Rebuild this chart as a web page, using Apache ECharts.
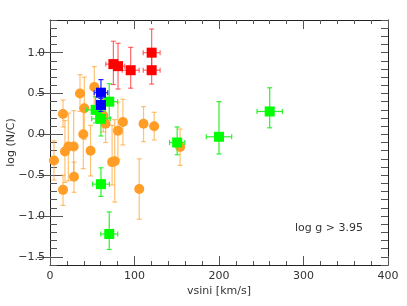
<!DOCTYPE html>
<html><head><meta charset="utf-8">
<script src="https://cdn.jsdelivr.net/npm/echarts@6/dist/echarts.min.js"></script>
<style>html,body{margin:0;padding:0;background:#fff}#c{width:407px;height:306px}</style>
</head><body><div id="c"></div>
<script>
// ---- data ----
const xTicks = [0, 100, 200, 300, 400];
const yTicks = [-1.5, -1.0, -0.5, 0.0, 0.5, 1.0];

const orangeX  = [4.7, 15.4, 15.4, 17.7, 21.7, 28.0, 28.4, 35.5, 39.4, 40.6, 48.0, 52.4, 63.0, 65.8, 73.5, 76.6, 80.4, 86.3, 105.6, 110.7, 123.3, 154.0];
const orangeY  = [-0.32, 0.25, -0.68, -0.21, -0.15, -0.15, -0.52, 0.50, 0.00, 0.32, -0.20, 0.58, 0.23, 0.13, -0.34, -0.33, 0.045, 0.15, -0.67, 0.13, 0.10, -0.155];
const orangeUp = [0.24, 0.17, 0.18, 0.38, 0.41, 0.44, 0.18, 0.23, 0.31, 0.38, 0.31, 0.25, 0.20, 0.25, 0.45, 0.51, 0.35, 0.28, 0.37, 0.21, 0.17, 0.22];
const orangeDn = [0.24, 0.16, 0.19, 0.38, 0.42, 0.40, 0.19, 0.22, 0.42, 0.38, 0.31, 0.25, 0.20, 0.23, 0.28, 0.50, 0.35, 0.28, 0.37, 0.22, 0.17, 0.225];

const greenX   = [54.0, 60.3, 70.1, 60.3, 70.1, 150.5, 200.0, 260.0];
const greenY   = [0.30, 0.19, 0.40, -0.61, -1.22, -0.10, -0.03, 0.28];
const greenXe  = [11, 11, 10, 10, 10, 9, 15, 15];
const greenUp  = [0.16, 0.22, 0.22, 0.20, 0.27, 0.19, 0.43, 0.29];
const greenDn  = [0.16, 0.21, 0.20, 0.15, 0.19, 0.15, 0.21, 0.20];

const blueX    = [60.3, 60.3];
const blueY    = [0.51, 0.36];
const blueXe   = [8, 5];
const blueUp   = [0.16, 0.08];
const blueDn   = [0.14, 0.08];

const redX     = [75.0, 80.5, 95.5, 120.3, 120.3];
const redY     = [0.86, 0.835, 0.785, 1.0, 0.785];
const redXe    = [9, 8, 10, 10, 10];
const redUp    = [0.28, 0.28, 0.28, 0.29, 0.17];
const redDn    = [0.25, 0.28, 0.22, 0.17, 0.17];

// ---- build ----
function rows(xs, ys, dn, up, xe) {
  return xs.map((x, i) => [x, ys[i], dn[i], up[i], xe ? xe[i] : 0]);
}
function errSeries(data, color, z) {
  return {
    type: 'custom', data: data, z: z, silent: true,
    encode: { x: 0, y: 1 },
    renderItem: function (params, api) {
      const x = api.value(0), y = api.value(1), dn = api.value(2), up = api.value(3), xe = api.value(4);
      const t = api.coord([x, y + up]), b = api.coord([x, y - dn]);
      const cap = 2.5;
      const st = { stroke: color, lineWidth: 1.2 };
      const ch = [
        { type: 'line', shape: { x1: t[0], y1: t[1], x2: b[0], y2: b[1] }, style: st },
        { type: 'line', shape: { x1: t[0] - cap, y1: t[1], x2: t[0] + cap, y2: t[1] }, style: st },
        { type: 'line', shape: { x1: b[0] - cap, y1: b[1], x2: b[0] + cap, y2: b[1] }, style: st }
      ];
      if (xe > 0) {
        const l = api.coord([x - xe, y]), r = api.coord([x + xe, y]);
        ch.push({ type: 'line', shape: { x1: l[0], y1: l[1], x2: r[0], y2: r[1] }, style: st });
        ch.push({ type: 'line', shape: { x1: l[0], y1: l[1] - cap, x2: l[0], y2: l[1] + cap }, style: st });
        ch.push({ type: 'line', shape: { x1: r[0], y1: r[1] - cap, x2: r[0], y2: r[1] + cap }, style: st });
      }
      return { type: 'group', children: ch };
    }
  };
}
function pts(xs, ys, color, symbol, size, z) {
  return {
    type: 'scatter', data: xs.map((x, i) => [x, ys[i]]), symbol: symbol, symbolSize: size, z: z,
    itemStyle: { color: color, opacity: 1 }, silent: true
  };
}

const FONT = 'DejaVu Sans';
const TXT = '#333';
const LINE = '#222';
const TICK = '#555';
const fmtY = v => {
  const r = Math.round(v * 10);
  if (r % 5 !== 0) return '';
  return (r / 10).toFixed(1).replace('-', '\u2212');
};

const baseX = {
  type: 'value', min: 0, max: 400, interval: 100,
  axisLine: { show: true, onZero: false, lineStyle: { color: LINE, width: 1 } },
  axisTick: { show: true, inside: true, length: 9, lineStyle: { color: TICK } },
  minorTick: { show: true, splitNumber: 5, length: 4, lineStyle: { color: TICK } },
  splitLine: { show: false }, minorSplitLine: { show: false }
};
const minorY = {
  type: 'value', min: -1.6, max: 1.4, interval: 0.1,
  axisLine: { show: true, onZero: false, lineStyle: { color: LINE, width: 1 } },
  axisTick: { show: true, inside: true, length: 7, lineStyle: { color: TICK } },
  splitLine: { show: false }
};
const majorY = {
  type: 'value', min: -1.6, max: 1.4,
  axisLine: { show: false },
  axisTick: { show: true, inside: true, length: 13, customValues: yTicks, lineStyle: { color: TICK } },
  axisLabel: { show: false },
  splitLine: { show: false }
};

const option = {
  animation: false,
  backgroundColor: '#fff',
  grid: { left: 50, right: 19, top: 20, bottom: 41, containLabel: false, outerBoundsMode: 'none' },
  xAxis: [
    Object.assign({}, baseX, {
      position: 'bottom',
      axisLabel: { color: TXT, fontSize: 11, fontFamily: FONT, margin: 6 },
      name: 'vsini [km/s]', nameLocation: 'middle', nameGap: 21, nameMoveOverlap: false,
      nameTextStyle: { color: TXT, fontSize: 11, fontFamily: FONT }
    }),
    Object.assign({}, baseX, { position: 'top', axisLabel: { show: false } })
  ],
  yAxis: [
    Object.assign({}, minorY, {
      position: 'left',
      axisLabel: { color: TXT, fontSize: 11, fontFamily: FONT, margin: 5, formatter: fmtY },
      name: 'log (N/C)', nameLocation: 'middle', nameGap: 33, nameMoveOverlap: false,
      nameTextStyle: { color: TXT, fontSize: 11, fontFamily: FONT }
    }),
    Object.assign({}, minorY, { position: 'right', axisLabel: { show: false } }),
    Object.assign({}, majorY, { position: 'left' }),
    Object.assign({}, majorY, { position: 'right' })
  ],
  graphic: [{
    type: 'text', left: 295, top: 223,
    style: { text: 'log g > 3.95', fill: TXT, font: '11px "DejaVu Sans"' }
  }],
  series: [
    errSeries(rows(orangeX, orangeY, orangeDn, orangeUp, null), 'rgba(255,160,40,0.65)', 2),
    pts(orangeX, orangeY, '#ff9d26', 'circle', 10, 3),
    errSeries(rows(greenX, greenY, greenDn, greenUp, greenXe), '#2ef02e', 4),
    pts(greenX, greenY, '#00ff00', 'rect', 10, 5),
    errSeries(rows(blueX, blueY, blueDn, blueUp, blueXe), '#2020ff', 6),
    pts(blueX, blueY, '#0000ff', 'rect', 10, 7),
    errSeries(rows(redX, redY, redDn, redUp, redXe), 'rgba(255,40,40,0.7)', 8),
    pts(redX, redY, '#ff0000', 'rect', 10, 9)
  ]
};
const chart = echarts.init(document.getElementById('c'), null, { renderer: 'canvas' });
chart.setOption(option);
</script>
</body></html>
